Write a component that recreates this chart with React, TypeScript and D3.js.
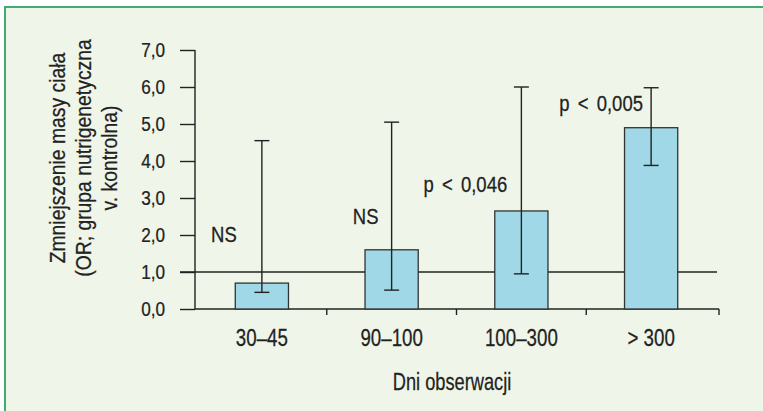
import React, { useEffect, useRef } from "react";
import * as d3 from "d3";

const categories = ["30–45", "90–100", "100–300", "> 300"];
const values = [0.7, 1.6, 2.65, 4.9];
const errLow = [0.45, 0.51, 0.95, 3.88];
const errHigh = [4.55, 5.05, 6.0, 5.98];
const annotations = ["NS", "NS", "p < 0,046", "p < 0,005"];
const annotationAt = [1.8, 2.3, 3.15, 5.35];
const yTicks = [0, 1, 2, 3, 4, 5, 6, 7];
const yTitle = ["Zmniejszenie masy ciała", "(OR; grupa nutrigenetyczna", "v. kontrolna)"];
const xTitle = "Dni obserwacji";

const FONT = "'Liberation Sans', Arial, Helvetica, sans-serif";
const INK = "#222";

function addText(parent: any, x: number, y: number, t: string, size: number, sx: number, ws = 0) {
  const g = parent.append("g").attr("transform", `translate(${x},${y}) scale(${sx},1)`);
  g.append("text").attr("text-anchor", "middle").attr("font-family", FONT)
    .attr("font-size", size).attr("fill", INK).attr("stroke", INK).attr("stroke-width", 0.25)
    .attr("word-spacing", ws).text(t);
  return g;
}

export default function App() {
  const ref = useRef<SVGSVGElement>(null);
  useEffect(() => {
    const svg = d3.select(ref.current);
    svg.selectAll("*").remove();
    const W = 763, H = 411;
    svg.append("rect").attr("width", W).attr("height", H).attr("fill", "#ffffff");
    svg.append("rect").attr("x", 5).attr("y", 7).attr("width", W).attr("height", H)
      .attr("fill", "#eff5e8").attr("stroke", "#44aa74").attr("stroke-width", 2);

    const x = d3.scaleBand<string>().domain(categories).range([197, 716]);
    const y = d3.scaleLinear().domain([0, 7]).range([309, 50]);
    const loc = d3.formatLocale({ decimal: ",", thousands: " ", grouping: [3], currency: ["", ""] });
    const fmt = loc.format(".1f");

    // y axis
    const tickSx = 0.88;
    const ya = svg.append("g").attr("transform", "translate(195,0)")
      .call(d3.axisLeft(y).tickValues(yTicks).tickSize(15).tickPadding(14).tickFormat((d: any) => fmt(d)));
    ya.selectAll("path").attr("stroke", INK).attr("stroke-width", 1.4);
    ya.selectAll("line").attr("stroke", INK).attr("stroke-width", 1.4);
    ya.selectAll("text").attr("font-family", FONT).attr("font-size", 19.5).attr("fill", INK)
      .attr("stroke", INK).attr("stroke-width", 0.25)
      .attr("x", -30 / tickSx).attr("transform", `scale(${tickSx},1)`);
    ya.select(".domain").attr("d", `M0,${y(7)}H0V${y(0)}`);

    // x axis line
    svg.append("line").attr("x1", 195).attr("x2", 719).attr("y1", y(0)).attr("y2", y(0))
      .attr("stroke", INK).attr("stroke-width", 1.4);
    const bounds = categories.slice(1).map((c) => x(c)!);
    bounds.push(719);
    svg.selectAll(".bt").data(bounds).enter().append("line")
      .attr("x1", (d) => d).attr("x2", (d) => d).attr("y1", y(0)).attr("y2", y(0) + 6)
      .attr("stroke", INK).attr("stroke-width", 1.4);

    // x labels
    categories.forEach((c) => addText(svg, x(c)! + x.bandwidth() / 2, 346, c, 24, 0.78));

    const bw = x.bandwidth() * 0.41;
    svg.selectAll(".bar").data(categories).enter().append("rect")
      .attr("x", (d) => x(d)! + x.bandwidth() / 2 - bw / 2)
      .attr("y", (d, i) => y(values[i]))
      .attr("width", bw)
      .attr("height", (d, i) => y(0) - y(values[i]))
      .attr("fill", "#a0d8e7").attr("stroke", "#333").attr("stroke-width", 1.3);

    // reference line at 1.0, hidden behind bars taller than 1
    const segs: [number, number][] = [];
    let start = 180;
    categories.forEach((c, i) => {
      const bx = x(c)! + x.bandwidth() / 2 - bw / 2;
      if (values[i] > 1) { segs.push([start, bx]); start = bx + bw; }
    });
    segs.push([start, 717]);
    svg.selectAll(".ref").data(segs).enter().append("line")
      .attr("x1", (d) => d[0]).attr("x2", (d) => d[1]).attr("y1", y(1)).attr("y2", y(1))
      .attr("stroke", INK).attr("stroke-width", 1.4);

    // error bars
    const cap = 7.5;
    categories.forEach((c, i) => {
      const cx = x(c)! + x.bandwidth() / 2;
      const g = svg.append("g").attr("stroke", INK).attr("stroke-width", 1.4);
      g.append("line").attr("x1", cx).attr("x2", cx).attr("y1", y(errLow[i])).attr("y2", y(errHigh[i]));
      g.append("line").attr("x1", cx - cap).attr("x2", cx + cap).attr("y1", y(errLow[i])).attr("y2", y(errLow[i]));
      g.append("line").attr("x1", cx - cap).attr("x2", cx + cap).attr("y1", y(errHigh[i])).attr("y2", y(errHigh[i]));
    });

    // annotations
    const annDx = [-38, -26, -56, -50];
    annotations.forEach((t, i) => {
      const cx = x(categories[i])! + x.bandwidth() / 2;
      addText(svg, cx + annDx[i], y(annotationAt[i]), t, 21.5, 0.86, 3.5);
    });

    // y title
    const yt = svg.append("g").attr("transform", "translate(84,158) rotate(-90) scale(0.9,1)");
    yTitle.forEach((t, i) => {
      yt.append("text").attr("x", 0).attr("y", (i - 1) * 26 + 7)
        .attr("text-anchor", "middle").attr("font-family", FONT).attr("font-size", 21.5)
        .attr("fill", INK).attr("stroke", INK).attr("stroke-width", 0.25).text(t);
    });

    addText(svg, 452, 390, xTitle, 24, 0.76);
  }, []);
  return <svg ref={ref} width={763} height={411} style={{ position: "absolute", left: 0, top: 0, display: "block" }} />;
}
